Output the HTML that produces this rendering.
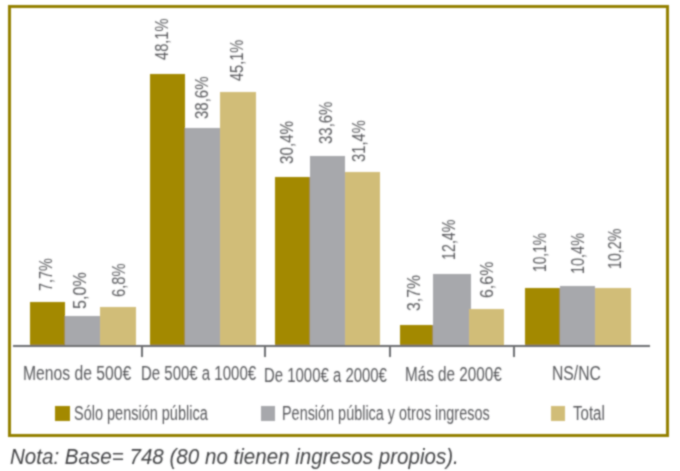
<!DOCTYPE html>
<html><head><meta charset="utf-8"><style>
html,body{margin:0;padding:0;background:#fff;width:680px;height:471px;overflow:hidden;position:relative}
body{font-family:"Liberation Sans",sans-serif;color:#58595c}
.frame{position:absolute;left:8px;top:5px;width:661px;height:432px;box-sizing:border-box;border:3px solid #938004}
.wrap{position:absolute;left:0;top:0;width:680px;height:471px;filter:url(#sb)}
.b{position:absolute}
.axis{position:absolute;left:13px;top:345px;width:637px;height:2px;background:#6d6e71}
.t{position:absolute;top:345px;width:2px;height:12px;background:#6d6e71}
.v{position:absolute;font-size:17.5px;line-height:17.5px;white-space:nowrap;transform-origin:0 0}
.h{position:absolute;white-space:nowrap;transform-origin:0 0}
.sq{position:absolute;top:406px;width:15px;height:15px}
.note{position:absolute;left:10px;top:443px;font-size:21px;line-height:24px;font-style:italic;white-space:nowrap;transform-origin:0 0;transform:scaleX(0.96)}
</style></head><body>
<svg width="0" height="0" style="position:absolute"><filter id="sb" x="0" y="0" width="100%" height="100%"><feConvolveMatrix order="5" kernelMatrix="0.00023 0.00332 0.00809 0.00332 0.00023 0.00332 0.04785 0.11640 0.04785 0.00332 0.00809 0.11640 0.28313 0.11640 0.00809 0.00332 0.04785 0.11640 0.04785 0.00332 0.00023 0.00332 0.00809 0.00332 0.00023" edgeMode="duplicate" preserveAlpha="false"/></filter></svg>
<div class="wrap">
<div class="frame"></div>
<div class="axis"></div>
<div class="b" style="left:30px;top:302px;width:35px;height:43px;background:#a38900"></div>
<div class="b" style="left:65px;top:316px;width:35px;height:29px;background:#a7a8ac"></div>
<div class="b" style="left:100px;top:307px;width:36px;height:38px;background:#d1bd78"></div>
<div class="b" style="left:150px;top:74px;width:35px;height:271px;background:#a38900"></div>
<div class="b" style="left:185px;top:128px;width:35px;height:217px;background:#a7a8ac"></div>
<div class="b" style="left:220px;top:92px;width:36px;height:253px;background:#d1bd78"></div>
<div class="b" style="left:275px;top:176.5px;width:35px;height:168.5px;background:#a38900"></div>
<div class="b" style="left:310px;top:156px;width:35px;height:189px;background:#a7a8ac"></div>
<div class="b" style="left:345px;top:172px;width:35px;height:173px;background:#d1bd78"></div>
<div class="b" style="left:400px;top:324.5px;width:33px;height:20.5px;background:#a38900"></div>
<div class="b" style="left:433px;top:274px;width:38px;height:71px;background:#a7a8ac"></div>
<div class="b" style="left:469px;top:309px;width:35px;height:36px;background:#d1bd78"></div>
<div class="b" style="left:525px;top:288px;width:35px;height:57px;background:#a38900"></div>
<div class="b" style="left:560px;top:286px;width:35px;height:59px;background:#a7a8ac"></div>
<div class="b" style="left:595px;top:288px;width:35.5px;height:57px;background:#d1bd78"></div>
<span class="v" style="left:38.25px;top:290.73px;transform:rotate(-90deg) scaleX(0.8263)">7,7%</span>
<span class="v" style="left:72.45px;top:309.42px;transform:rotate(-90deg) scaleX(0.9211)">5,0%</span>
<span class="v" style="left:110.60px;top:297.44px;transform:rotate(-90deg) scaleX(0.8395)">6,8%</span>
<span class="v" style="left:154.10px;top:59.80px;transform:rotate(-90deg) scaleX(0.8367)">48,1%</span>
<span class="v" style="left:193.70px;top:118.86px;transform:rotate(-90deg) scaleX(0.8562)">38,6%</span>
<span class="v" style="left:229.30px;top:80.50px;transform:rotate(-90deg) scaleX(0.8327)">45,1%</span>
<span class="v" style="left:279.00px;top:163.87px;transform:rotate(-90deg) scaleX(0.8688)">30,4%</span>
<span class="v" style="left:317.85px;top:143.85px;transform:rotate(-90deg) scaleX(0.8542)">33,6%</span>
<span class="v" style="left:350.65px;top:161.94px;transform:rotate(-90deg) scaleX(0.8417)">31,4%</span>
<span class="v" style="left:406.25px;top:310.90px;transform:rotate(-90deg) scaleX(0.9026)">3,7%</span>
<span class="v" style="left:441.25px;top:260.12px;transform:rotate(-90deg) scaleX(0.8167)">12,4%</span>
<span class="v" style="left:479.30px;top:297.51px;transform:rotate(-90deg) scaleX(0.9105)">6,6%</span>
<span class="v" style="left:531.75px;top:272.39px;transform:rotate(-90deg) scaleX(0.7875)">10,1%</span>
<span class="v" style="left:569.85px;top:274.33px;transform:rotate(-90deg) scaleX(0.8271)">10,4%</span>
<span class="v" style="left:606.55px;top:268.71px;transform:rotate(-90deg) scaleX(0.8146)">10,2%</span>
<span class="h" style="left:22.73px;top:363.00px;font-size:20px;line-height:20px;transform:scaleX(0.7852)">Menos de 500€</span>
<span class="h" style="left:140.90px;top:362.60px;font-size:20px;line-height:20px;transform:scaleX(0.7497)">De 500€ a 1000€</span>
<span class="h" style="left:264.01px;top:364.50px;font-size:20px;line-height:20px;transform:scaleX(0.7469)">De 1000€ a 2000€</span>
<span class="h" style="left:405.47px;top:364.20px;font-size:20px;line-height:20px;transform:scaleX(0.7637)">Más de 2000€</span>
<span class="h" style="left:552.43px;top:362.60px;font-size:20px;line-height:20px;transform:scaleX(0.7864)">NS/NC</span>
<span class="h" style="left:74.48px;top:402.55px;font-size:20px;line-height:20px;transform:scaleX(0.7245)">Sólo pensión pública</span>
<span class="h" style="left:281.56px;top:402.55px;font-size:20px;line-height:20px;transform:scaleX(0.7211)">Pensión pública y otros ingresos</span>
<span class="h" style="left:573.30px;top:402.55px;font-size:20px;line-height:20px;transform:scaleX(0.7537)">Total</span>
<span class="h" style="left:10.07px;top:445.50px;font-size:22px;line-height:22px;font-style:italic;color:#444547;transform:scaleX(0.9349)">Nota: Base= 748 (80 no tienen ingresos propios).</span>
<div class="t" style="left:141px"></div>
<div class="t" style="left:264px"></div>
<div class="t" style="left:389px"></div>
<div class="t" style="left:513px"></div>
<div class="sq" style="left:55px;width:15px;background:#a38900"></div>
<div class="sq" style="left:261px;width:14px;background:#a7a8ac"></div>
<div class="sq" style="left:551px;width:14px;background:#d1bd78"></div>
</div>
</body></html>
